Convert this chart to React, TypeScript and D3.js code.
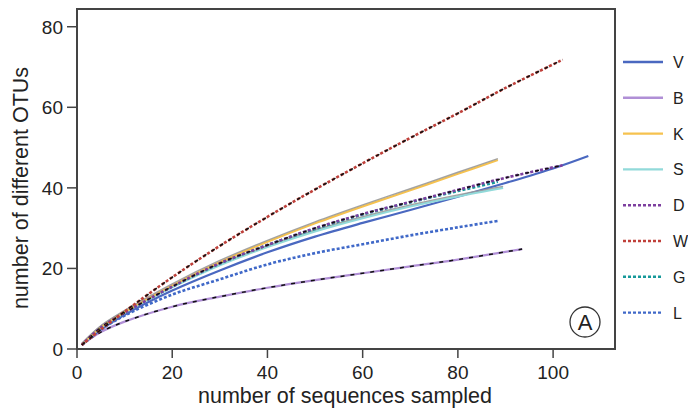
import React from "react";
import * as d3 from "d3";

type Pt = [number, number];

const seriesNames = ["V", "B", "K", "S", "D", "W", "G", "L"];
const seriesColors = ["#4a68c0", "#b08fd6", "#f6c24f", "#92dada", "#7d3f9f", "#c0403a", "#16999a", "#3f68c8"];
const seriesDashed = [false, false, false, false, true, true, true, true];

const dataV: Pt[] = [[1, 1], [5, 4.8], [10, 8.5], [20, 14.5], [30, 19.5], [40, 24], [50, 27.9], [60, 31.3], [70, 34.5], [80, 37.8], [90, 41.2], [100, 44.8], [107.4, 47.9]];
const dataB: Pt[] = [[1, 1], [5, 4.2], [10, 6.8], [20, 10.5], [30, 13], [40, 15.2], [50, 17.1], [60, 18.8], [70, 20.5], [80, 22.2], [93.5, 24.8]];
const dataK: Pt[] = [[1, 1], [5, 5.4], [10, 9.2], [20, 15.8], [30, 21.6], [40, 26.6], [50, 31.2], [60, 35.4], [70, 39.4], [80, 43.5], [88.4, 46.9]];
const dataS: Pt[] = [[1, 1], [5, 5.3], [10, 9], [20, 15.3], [30, 20.8], [40, 25.3], [50, 29.2], [60, 32.5], [70, 35.4], [80, 37.9], [89.5, 40]];
const dataD: Pt[] = [[1, 1], [5, 5.3], [10, 9], [20, 15.5], [30, 21.3], [40, 25.8], [50, 30], [60, 33.5], [70, 36.5], [80, 39.5], [90, 42.5], [102, 45.6]];
const dataW: Pt[] = [[1, 1], [5, 4.8], [10, 9.3], [20, 17.8], [30, 25.6], [40, 32.8], [50, 39.6], [60, 46.1], [70, 52.4], [80, 58.5], [90, 64.8], [102, 71.8]];
const dataG: Pt[] = [[1, 1], [5, 5.3], [10, 9.1], [20, 15.5], [30, 21.2], [40, 25.8], [50, 29.8], [60, 33.4], [70, 36.4], [80, 39.2], [88.4, 41.5]];
const dataL: Pt[] = [[1, 1], [5, 4.8], [10, 8.3], [20, 13.5], [30, 17.3], [40, 21], [50, 23.8], [60, 26], [70, 28.2], [80, 30.2], [88.4, 31.8]];

const allData = [dataV, dataB, dataK, dataS, dataD, dataW, dataG, dataL];

const xTicks = [0, 20, 40, 60, 80, 100];
const yTicks = [0, 20, 40, 60, 80];

const xTitle = "number of sequences sampled";
const yTitle = "number of different OTUs";
const panelLabel = "A";

// which series get a black dashed fitted curve and a gray fitted curve on top
const blackFitSeries = ["W", "D", "B"];
const grayFitSeries = ["K", "S"];

export default function App() {
  const W = 688, H = 409;
  const left = 77, right = 615, top = 9, bottom = 349;
  const x = d3.scaleLinear().domain([0, 113]).range([left, right]);
  const y = d3.scaleLinear().domain([0, 84.4]).range([bottom, top]);
  const line = d3.line<Pt>().x(d => x(d[0])).y(d => y(d[1])).curve(d3.curveCatmullRom.alpha(0.5));
  const font = "'Liberation Sans', Arial, Helvetica, sans-serif";
  const order = ["B", "L", "V", "S", "G", "K", "D", "W"];

  return (
    <svg width={W} height={H} style={{ position: "absolute", left: 0, top: 0, background: "#fff" }} fontFamily={font}>
      <rect x={0} y={0} width={W} height={H} fill="#fff" />
      {order.map(name => {
        const i = seriesNames.indexOf(name);
        const d = line(allData[i]) || "";
        return (
          <g key={name}>
            <path d={d} fill="none" stroke={seriesColors[i]} strokeWidth={seriesDashed[i] ? 2.6 : 2.2}
              strokeDasharray={seriesDashed[i] ? "3,2" : undefined} />
            {grayFitSeries.includes(name) && (
              <path d={d} fill="none" stroke="#999" strokeWidth={1.4} transform="translate(0,-1.5)" opacity={0.9} />
            )}
            {blackFitSeries.includes(name) && (
              <path d={d} fill="none" stroke="#111" strokeWidth={1.5} strokeDasharray="4,6" />
            )}
          </g>
        );
      })}
      <rect x={left} y={top} width={right - left} height={bottom - top} fill="none" stroke="#444" strokeWidth={2} />
      {xTicks.map(t => (
        <g key={"x" + t}>
          <line x1={x(t)} x2={x(t)} y1={bottom} y2={bottom + 9} stroke="#444" strokeWidth={1.5} />
          <text x={x(t)} y={bottom + 30} textAnchor="middle" fontSize={19} fill="#222">{t}</text>
        </g>
      ))}
      {yTicks.map(t => (
        <g key={"y" + t}>
          <line x1={left - 10} x2={left} y1={y(t)} y2={y(t)} stroke="#444" strokeWidth={1.5} />
          <text x={left - 14} y={y(t) + 7} textAnchor="end" fontSize={19} fill="#222">{t}</text>
        </g>
      ))}
      <text x={345} y={403} textAnchor="middle" fontSize={21.5} fill="#222">{xTitle}</text>
      <text transform={`translate(28,188) rotate(-90)`} textAnchor="middle" fontSize={21.5} fill="#222">{yTitle}</text>
      <circle cx={585} cy={322} r={15} fill="none" stroke="#333" strokeWidth={1.3} />
      <text x={585} y={330} textAnchor="middle" fontSize={22} fill="#222">{panelLabel}</text>
      {seriesNames.map((name, i) => {
        const ly = 62 + i * 35.8;
        return (
          <g key={"lg" + name}>
            <line x1={623} x2={663} y1={ly} y2={ly} stroke={seriesColors[i]} strokeWidth={2.4}
              strokeDasharray={seriesDashed[i] ? "3,2" : undefined} />
            <text x={673} y={ly + 6} fontSize={16} fill="#222">{name}</text>
          </g>
        );
      })}
    </svg>
  );
}
